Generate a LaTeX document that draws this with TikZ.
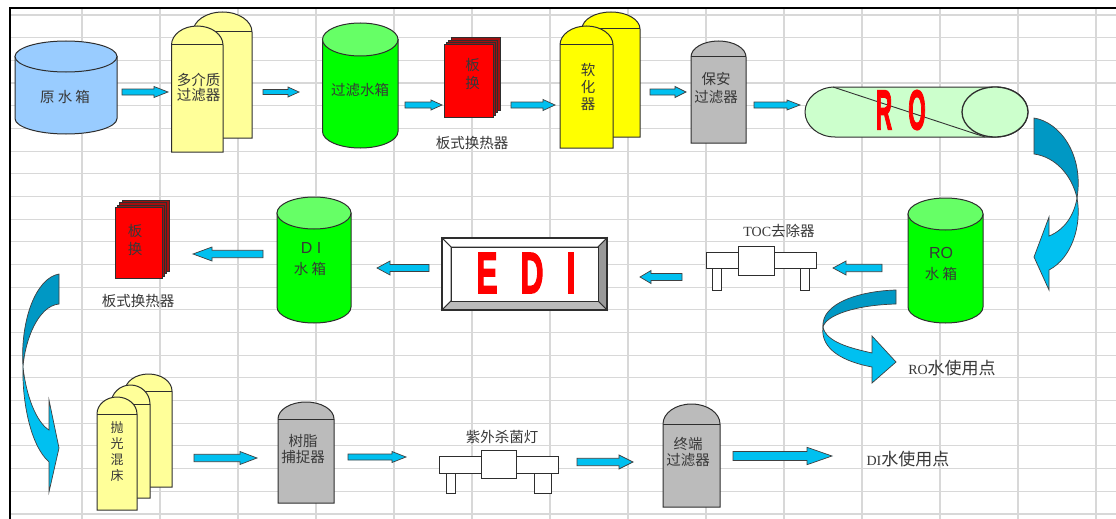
\documentclass[tikz,border=0pt]{standalone}
\usepackage{fontspec}
\setmainfont{Liberation Sans}
\newfontfamily\cjk{Noto Sans CJK SC}
\newfontfamily\ser{Liberation Serif}
\newfontfamily\heavy[UprightFont={* Bold},FakeBold=3]{Liberation Sans}
\newcommand{\blockarr}[6]{% tail x, tip x, y, head base x, shaft half, head half
  \draw[flow] (#1,#3-#5) -- (#4,#3-#5) -- (#4,#3-#6) -- (#2,#3) -- (#4,#3+#6) -- (#4,#3+#5) -- (#1,#3+#5) -- cycle;}
\newcommand{\tanksh}[6]{% x1,x2,top,ry,bottom,fill
  \pgfmathsetmacro{\rxx}{(#2-#1)/2}
  \draw[ol,fill=#6] (#1,#3+#4) -- (#1,#5-#4) arc[start angle=180,end angle=0,x radius=\rxx,y radius=#4] -- (#2,#3+#4) -- cycle;}
\newcommand{\tanktop}[5]{%
  \pgfmathsetmacro{\rxx}{(#2-#1)/2}
  \draw[ol,fill=#5] ({(#1+#2)/2},#3+#4) ellipse[x radius=\rxx,y radius=#4];}
\newcommand{\vessel}[6]{% x1,x2,top,base,bottom,fill
  \pgfmathsetmacro{\rxx}{(#2-#1)/2}
  \pgfmathsetmacro{\ryy}{#4-#3}
  \draw[ol,fill=#6] (#1,#5) -- (#1,#4) arc[start angle=180,end angle=360,x radius=\rxx,y radius=\ryy] -- (#2,#5) -- cycle;
  \draw[ol] (#1,#4) -- (#2,#4);}
\newcommand{\plate}[4]{% x1,x2,y1,y2 front sheet
  \draw[ol,fill=darkred] (#1+7,#3-7) rectangle (#2+7,#4-7);
  \draw[ol,fill=darkred] (#1+4.5,#3-4.5) rectangle (#2+4.5,#4-4.5);
  \draw[ol,fill=darkred] (#1+2,#3-2) rectangle (#2+2,#4-2);
  \draw[ol,fill=red] (#1,#3) rectangle (#2,#4);}
\begin{document}
\begin{tikzpicture}[x=1pt,y=-1pt,line join=miter,
  ol/.style={draw=black!82,line width=1pt},
  lbl/.style={font=\cjk\fontsize{14.5}{15}\selectfont,align=center,inner sep=0pt,text=black!78},
  flow/.style={draw=black!75,line width=0.7pt,fill=arrowblue},
  curvedk/.style={draw=black!75,line width=0.7pt,fill=darkblue},
  curvlt/.style={draw=black!75,line width=0.7pt,fill=arrowblue},
  bigred/.style={inner sep=0pt,text=red,font=\heavy\fontsize{56}{56}\selectfont}]
\definecolor{arrowblue}{HTML}{00C0F0}
\definecolor{darkblue}{HTML}{0098C4}
\definecolor{tankblue}{HTML}{99CCFF}
\definecolor{tankgreen}{HTML}{00FF00}
\definecolor{topgreen}{HTML}{66FF66}
\definecolor{paleyel}{HTML}{FFFF99}
\definecolor{vivyel}{HTML}{FFFF00}
\definecolor{greyb}{HTML}{BBBBBB}
\definecolor{rogreen}{HTML}{CCFFCC}
\definecolor{gridc}{HTML}{D8D8D8}
\definecolor{darkred}{HTML}{A01010}
\useasboundingbox (0,0) rectangle (1116,519);
\fill[white] (0,0) rectangle (1116,519);
% grid
\foreach \k in {0,...,22} \draw[gridc,line width=1.1pt] (10,{15+22.68*\k}) -- (1116,{15+22.68*\k});
\foreach \k in {0,...,13} \draw[gridc,line width=1.1pt] ({82+78*\k},8) -- ({82+78*\k},519);
\draw[black,line width=2pt] (10,519) -- (10,8) -- (1116,8);
% raw tank
\tanksh{15}{117}{41}{15.5}{134}{tankblue}
\tanktop{15}{117}{41}{15.5}{tankblue}
\node[lbl] (raw) at (65,97) {原 水 箱};
% multi media filter
\vessel{193}{252}{12}{32}{138}{paleyel}
\vessel{171.5}{223}{26}{45}{152}{paleyel}
\node[lbl] (mm) at (198.5,87.5) {多介质\\[-0.5pt]过滤器};
% filtered tank
\tanksh{322.5}{398}{23}{16.5}{148}{tankgreen}
\tanktop{322.5}{398}{23}{16.5}{topgreen}
\node[lbl] (ft) at (360,90) {过滤水箱};
% plate 1
\plate{444}{493}{45}{117}
\node[lbl] (p1) at (472.5,74) {板\\[3pt]换};
\node[lbl] (p1t) at (472,143) {板式换热器};
% softener
\vessel{582}{640}{12}{29}{137}{vivyel}
\vessel{560}{613}{26}{45}{148}{vivyel}
\node[lbl] (soft) at (588,87) {软\\[2pt]化\\[2pt]器};
% security filter
\vessel{691}{746}{41}{57}{143}{greyb}
\node[lbl] (sec) at (716,88.5) {保安\\[3pt]过滤器};
% RO
\draw[ol,fill=rogreen] (835,87) -- (996,87) arc[start angle=-90,end angle=90,x radius=32,y radius=25] -- (835,137) arc[start angle=90,end angle=270,x radius=30,y radius=25] -- cycle;
\draw[ol,line width=1.3pt,fill=rogreen] (995,112) ellipse[x radius=33,y radius=25];
\draw[draw=black!80,line width=0.9pt] (833,87) -- (985,137);
\node[bigred,xscale=0.4] (r) at (884,110) {R};
\node[bigred,xscale=0.4] (o) at (917,110) {O};
% curved arrow RO -> RO tank
\draw[curvlt] (1077,198) .. controls (1082,225) and (1072,258) .. (1049,270) -- (1049,290) -- (1034,257) -- (1049,217) -- (1049,236) .. controls (1064,230) and (1074,216) .. (1077,198) -- cycle;
\draw[curvedk] (1034,118) .. controls (1060,122) and (1084,155) .. (1077,198) .. controls (1072,176) and (1056,157) .. (1034,154) -- cycle;
% RO tank
\tanksh{908}{983}{198}{16}{323}{tankgreen}
\tanktop{908}{983}{198}{16}{topgreen}
\node[lbl,font=\fontsize{16}{16}\selectfont] (rot) at (941,253) {RO};
\node[lbl] (rotb) at (941,274) {水 箱};
% curved arrow RO use point
\draw[curvlt] (823,327) .. controls (820,350) and (845,362) .. (872,367) -- (872,383) -- (896,362) -- (872,336) -- (872,353) .. controls (850,348) and (826,342) .. (823,327) -- cycle;
\draw[curvedk] (896,290) .. controls (860,291) and (821,303) .. (823,327) .. controls (826,315) and (856,305) .. (896,304) -- cycle;
\node[lbl,font=\cjk\fontsize{17}{17}\selectfont] (rouse) at (952,368) {{\ser\fontsize{14}{14}\selectfont RO}水使用点};
% TOC device
\draw[ol,line width=0.9pt,fill=white] (712,268) rectangle (721,290);
\draw[ol,line width=0.9pt,fill=white] (800,268) rectangle (809,290);
\draw[ol,line width=0.9pt,fill=white] (706,252) rectangle (816,268);
\draw[ol,line width=0.9pt,fill=white] (738,246) rectangle (774,275);
\node[lbl] (toc) at (779,231) {{\ser\fontsize{14}{14}\selectfont TOC}去除器};
% EDI
\fill[white] (442,238) rectangle (607,310);
\draw[ol,fill=white] (442,238) -- (607,238) -- (598,247) -- (451,247) -- cycle;
\draw[ol,fill=white] (442,238) -- (451,247) -- (451,301) -- (442,310) -- cycle;
\draw[ol,fill=black!40] (607,238) -- (607,310) -- (598,301) -- (598,247) -- cycle;
\draw[ol,fill=greyb] (442,310) -- (451,301) -- (598,301) -- (607,310) -- cycle;
\draw[ol,fill=white] (451,247) rectangle (598,301);
\draw[ol,line width=1.2pt] (442,238) rectangle (607,310);
\node[bigred,xscale=0.55,font=\heavy\fontsize{58}{58}\selectfont] (e) at (487,273) {E};
\node[bigred,xscale=0.55,font=\heavy\fontsize{58}{58}\selectfont] (d) at (532,273) {D};
\node[bigred,xscale=0.55,font=\heavy\fontsize{58}{58}\selectfont] (i) at (571,273) {I};
% DI tank
\tanksh{277}{351}{197}{16}{323}{tankgreen}
\tanktop{277}{351}{197}{16}{topgreen}
\node[lbl,font=\fontsize{16}{16}\selectfont] (dit) at (311,248) {D I};
\node[lbl] (ditb) at (310,269) {水 箱};
% plate 2
\plate{115}{162}{207}{278}
\node[lbl] (p2) at (135,239.5) {板\\[3pt]换};
\node[lbl] (p2t) at (138,301) {板式换热器};
% left curved arrow
\draw[curvlt] (23,367) .. controls (22,400) and (30,445) .. (49,462) -- (49,492) -- (59,448) -- (49,400) -- (49,430) .. controls (36,422) and (26,395) .. (23,367) -- cycle;
\draw[curvedk] (59,274) .. controls (36,278) and (20,320) .. (23,367) .. controls (25,340) and (38,306) .. (59,304) -- cycle;
% polishing mixed bed
\vessel{125}{172}{374}{391}{487}{paleyel}
\vessel{111}{150}{385}{404}{498}{paleyel}
\vessel{97}{137}{397}{414}{510}{paleyel}
\node[lbl,font=\cjk\fontsize{13}{13}\selectfont] (pol) at (117,451.5) {抛\\[3pt]光\\[3pt]混\\[3pt]床};
% resin catcher
\vessel{278}{334}{402}{419}{503}{greyb}
\node[lbl] (resin) at (303,449) {树脂\\[1pt]捕捉器};
% UV lamp
\draw[ol,line width=0.9pt,fill=white] (446,473) rectangle (455,493);
\draw[ol,line width=0.9pt,fill=white] (534,473) rectangle (551,493);
\draw[ol,line width=0.9pt,fill=white] (439,456) rectangle (558,473);
\draw[ol,line width=0.9pt,fill=white] (481,450) rectangle (516,478);
\node[lbl] (uv) at (502,437) {紫外杀菌灯};
% final filter
\vessel{663}{720}{404}{424}{507}{greyb}
\node[lbl] (fin) at (688,452) {终端\\[1pt]过滤器};
\node[lbl,font=\cjk\fontsize{17}{17}\selectfont] (diuse) at (908,459) {{\ser\fontsize{14}{14}\selectfont DI}水使用点};
% block arrows
\blockarr{122}{168}{92}{154}{3}{5.5}
\blockarr{263}{299}{92}{288}{2.5}{5}
\blockarr{405}{442}{105}{431}{3}{5}
\blockarr{511}{555}{105}{543}{3}{5.5}
\blockarr{650}{686}{92}{675}{3}{5.5}
\blockarr{754}{800}{105}{787}{3}{5}
\blockarr{882}{833}{268}{846}{3.7}{7}
\blockarr{682}{640}{277}{651}{3.5}{6.5}
\blockarr{429}{377}{268}{390}{3.5}{7}
\blockarr{263}{193}{254}{212}{3.7}{7}
\blockarr{194}{257}{458}{240}{3.7}{6.5}
\blockarr{348}{406}{457}{392}{3}{5.5}
\blockarr{577}{633}{462}{619}{3.7}{7}
\blockarr{733}{832}{456}{807}{4.5}{8.7}
\end{tikzpicture}
\end{document}
